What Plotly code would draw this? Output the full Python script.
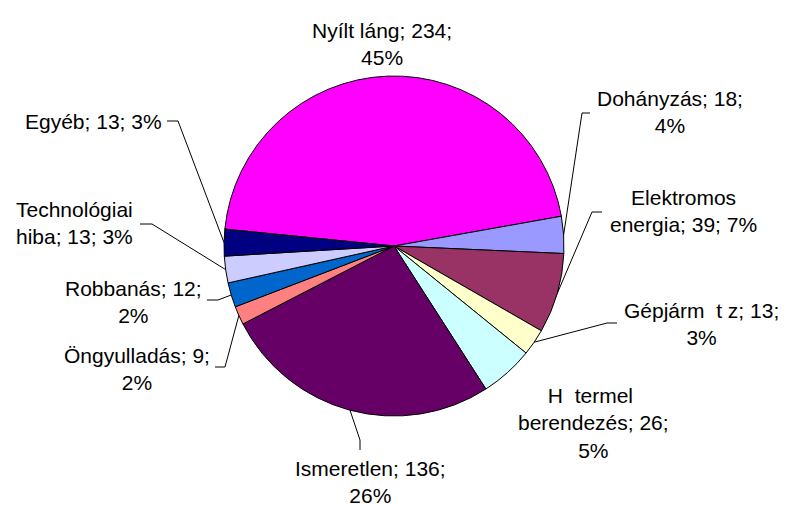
import math
import plotly.graph_objects as go

# ---- data ----
categories = ["Nyílt láng", "Dohányzás", "Elektromos energia", "Gépjármű tűz",
              "Hőtermelő berendezés", "Ismeretlen", "Öngyulladás", "Robbanás",
              "Technológiai hiba", "Egyéb"]
values = [234, 18, 39, 13, 26, 136, 9, 12, 13, 13]
label_texts = [
    "Nyílt láng; 234;<br>45%",
    "Dohányzás; 18;<br>4%",
    "Elektromos<br>energia; 39; 7%",
    "Gépjárm\u00a0 t\u00a0z; 13;<br>3%",
    "H\u00a0 termel\u00a0<br>berendezés; 26;<br>5%",
    "Ismeretlen; 136;<br>26%",
    "Öngyulladás; 9;<br>2%",
    "Robbanás; 12;<br>2%",
    "Technológiai<br>hiba; 13; 3%",
    "Egyéb; 13; 3%",
]
colors = ["#FF00FF", "#9999FF", "#993366", "#FFFFCC", "#CCFFFF",
          "#660066", "#FF8080", "#0066CC", "#CCCCFF", "#000080"]

# ---- layout settings (pixels) ----
W, H = 787, 506
CX, CY, R = 394, 246, 170
START = -84.3  # first slice start angle, clockwise from 12 o'clock

# label block centres and leader elbows (text-side point, elbow point)
label_pos = [(382, 44), (670, 112), (683, 211), (701, 324), (593, 423),
             (370, 482), (137, 369), (133, 302), (74, 223), (93, 122)]
leaders = [None, ((590, 113), (582, 113)), ((602, 212), (592, 212)),
           ((617, 323), (607, 323)), None, ((360, 450), (360, 440)),
           ((215, 367), (225, 367)), ((207, 300), (218, 300)),
           ((140, 224), (152, 224)), ((167, 121), (178, 121))]


def px(x):
    return x / W


def py(y):
    return 1 - y / H


fig = go.Figure(go.Pie(
    labels=categories, values=values, sort=False, direction="clockwise",
    rotation=START, textinfo="none", hoverinfo="label+value+percent",
    marker=dict(colors=colors, line=dict(color="black", width=1)),
    domain=dict(x=[px(CX - R), px(CX + R)], y=[py(CY + R), py(CY - R)]),
    showlegend=False,
))

total = sum(values)
cum = 0
annotations = []
shapes = []
font = dict(family="Arial, Liberation Sans, sans-serif", size=21, color="black")
for i, v in enumerate(values):
    mid = START + (cum + v / 2) / total * 360
    cum += v
    lx, ly = label_pos[i]
    annotations.append(dict(x=px(lx), y=py(ly), xref="paper", yref="paper",
                            text=label_texts[i], showarrow=False, font=font,
                            xanchor="center", yanchor="middle", align="center"))
    if leaders[i] is not None:
        (tx, ty), (ex, ey) = leaders[i]
        a = math.radians(mid)
        sx, sy = CX + R * math.sin(a), CY - R * math.cos(a)
        path = "M {},{} L {},{} L {},{}".format(px(tx), py(ty), px(ex), py(ey), px(sx), py(sy))
        shapes.append(dict(type="path", path=path, xref="paper", yref="paper",
                           line=dict(color="black", width=1)))

fig.update_layout(width=W, height=H, autosize=False,
                  margin=dict(l=0, r=0, t=0, b=0),
                  paper_bgcolor="white", plot_bgcolor="white",
                  annotations=annotations, shapes=shapes)
fig.write_html("out.html", config={"displayModeBar": False},
               post_script="document.body.style.margin='0';document.body.style.padding='0';")
